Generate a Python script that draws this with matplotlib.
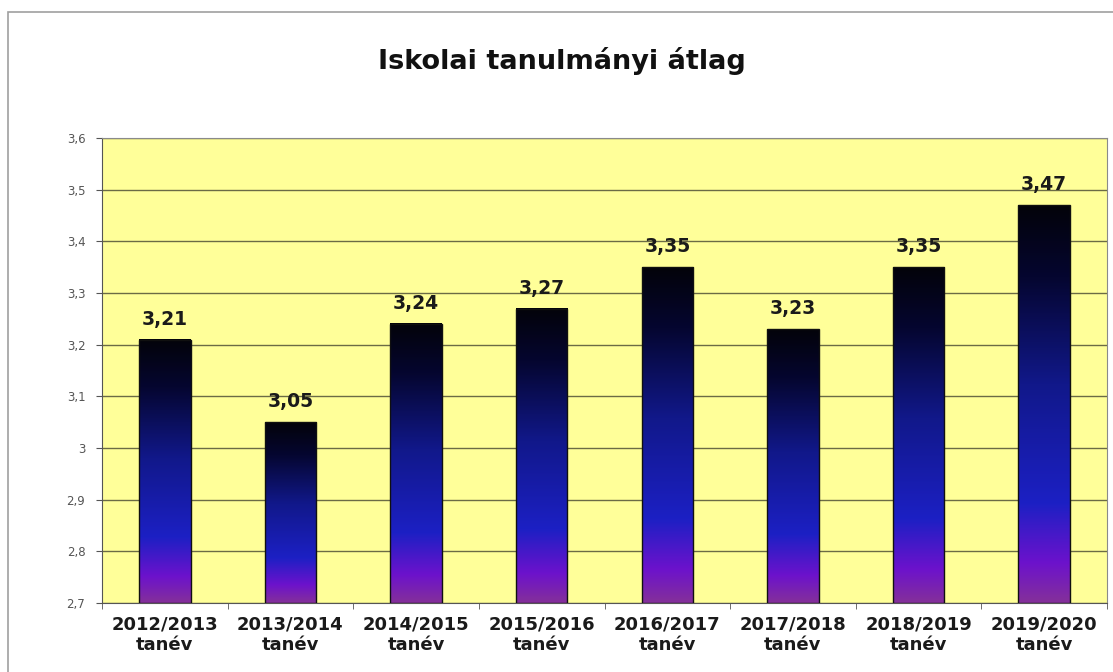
import matplotlib
matplotlib.use("Agg")
import matplotlib.pyplot as plt
import numpy as np
from matplotlib.colors import LinearSegmentedColormap
from matplotlib.patches import Rectangle

plt.rcParams['font.family'] = ['DejaVu Sans']

tanevek = ["2012/2013\ntanév", "2013/2014\ntanév", "2014/2015\ntanév", "2015/2016\ntanév",
           "2016/2017\ntanév", "2017/2018\ntanév", "2018/2019\ntanév", "2019/2020\ntanév"]
atlagok = [3.21, 3.05, 3.24, 3.27, 3.35, 3.23, 3.35, 3.47]
y_tickek = [2.7, 2.8, 2.9, 3.0, 3.1, 3.2, 3.3, 3.4, 3.5, 3.6]
y_cimkek = ["2,7", "2,8", "2,9", "3", "3,1", "3,2", "3,3", "3,4", "3,5", "3,6"]

# szinatmenet: alul lila, felul fekete
cmap = LinearSegmentedColormap.from_list("oszlop", [
    (0.0, "#84309a"), (0.1, "#6c12cc"), (0.25, "#1c20c4"),
    (0.55, "#11188a"), (0.82, "#050630"), (1.0, "#03030a")])

fig = plt.figure(figsize=(11.13, 6.72), dpi=100)
fig.patches.append(Rectangle((8/1113, -0.1), 1.2, 1 - 12/672 + 0.1,
                             transform=fig.transFigure, fill=False,
                             edgecolor="#a0a0a0", linewidth=1.2))
ax = fig.add_axes([102/1113, 1 - 603/672, 1005/1113, 465/672])
ax.set_facecolor("#ffff99")

x = np.arange(len(tanevek))
sz = 0.41
grad = np.linspace(0, 1, 256).reshape(-1, 1)
for xi, v in zip(x, atlagok):
    ax.imshow(grad, extent=(xi - sz/2, xi + sz/2, 2.7, v), origin="lower",
              aspect="auto", cmap=cmap, zorder=3)
    ax.text(xi, v + 0.021, f"{v:.2f}".replace(".", ","), ha="center", va="bottom",
            fontsize=13.5, fontweight="bold", color="#1a1a1a", zorder=4)
ax.bar(x, np.array(atlagok) - 2.7, bottom=2.7, width=sz, fill=False,
       edgecolor="#101010", linewidth=1, zorder=3)

ax.set_xlim(-0.5, len(tanevek) - 0.5)
ax.set_ylim(2.7, 3.6)
ax.set_yticks(y_tickek)
ax.set_yticklabels(y_cimkek, fontsize=8.5, color="#555555")
ax.yaxis.grid(True, color="#6b6b45", linewidth=1)
ax.set_axisbelow(True)
ax.set_xticks(x)
ax.set_xticklabels(tanevek, fontsize=13, fontweight="bold", color="#1a1a1a", linespacing=1.2)
ax.tick_params(axis="x", length=0, pad=9)
ax.set_xticks(np.arange(len(tanevek) + 1) - 0.5, minor=True)
ax.tick_params(axis="x", which="minor", length=4, color="#555555")
ax.tick_params(axis="y", length=4, color="#555555", pad=8)
for s in ax.spines.values():
    s.set_color("#8a8a8a")
ax.spines["left"].set_color("#555555")
ax.spines["bottom"].set_color("#555555")

fig.text(562/1113, 1 - 61/672, "Iskolai tanulmányi átlag", ha="center", va="center",
         fontsize=19.5, fontweight="bold", color="#111111")

plt.savefig("out.png", dpi=100)
